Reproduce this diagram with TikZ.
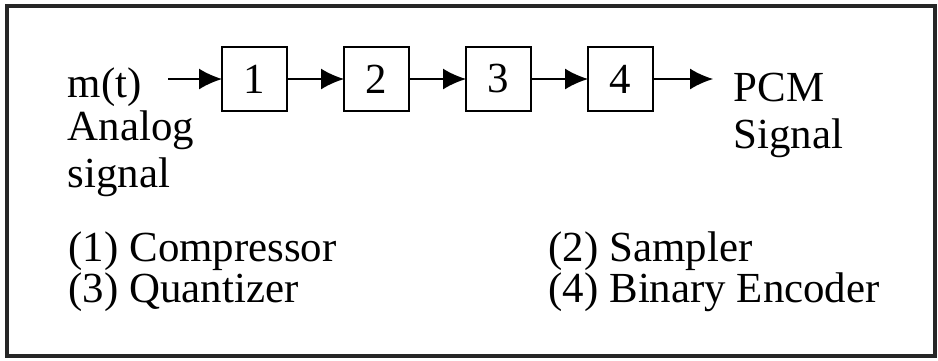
\documentclass[tikz,border=0pt]{standalone}
\usepackage{fontspec}
\setmainfont{Liberation Serif}
\usetikzlibrary{arrows.meta,positioning}

\begin{document}
\begin{tikzpicture}[node distance=0.57cm, font=\fontsize{12.2}{14}\selectfont]
  \tikzstyle{blk}=[draw, line width=0.6pt, minimum width=0.65cm, minimum height=0.64cm, inner sep=0pt, outer sep=0pt]
  \tikzstyle{txt}=[anchor=base west, inner sep=0pt]
  \tikzstyle{arr}=[-{Latex[length=2.3mm,width=2.1mm]}, line width=0.5pt]
  \useasboundingbox (0,0) rectangle (9.38,3.6);
  \draw[line width=0.9pt, black!85] (0.07,0.04) rectangle (9.35,3.54);
  \node[blk] (b1) at (2.545,2.81) {1};
  \node[blk, right=of b1] (b2) {2};
  \node[blk, right=of b2] (b3) {3};
  \node[blk, right=of b3] (b4) {4};
  \node[txt] (mt) at (0.67,2.63) {m(t)};
  \node[txt] (an) at (0.67,2.20) {Analog};
  \node[txt] (sg) at (0.67,1.73) {signal};
  \coordinate (out) at (7.13,2.81);
  \node[txt] (pcm) at (7.33,2.59) {PCM};
  \node[txt] (pcs) at (7.33,2.12) {Signal};
  \node[txt] (l1) at (0.68,0.99) {(1) Compressor};
  \node[txt] (l3) at (0.68,0.58) {(3) Quantizer};
  \node[txt] (l2) at (5.48,0.99) {(2) Sampler};
  \node[txt] (l4) at (5.48,0.58) {(4) Binary Encoder};
  \draw[arr, shorten <=0.26cm] (mt.east |- b1) -- (b1.west);
  \draw[arr] (b1) -- (b2);
  \draw[arr] (b2) -- (b3);
  \draw[arr] (b3) -- (b4);
  \draw[arr] (b4) -- (out);
\end{tikzpicture}
\end{document}
